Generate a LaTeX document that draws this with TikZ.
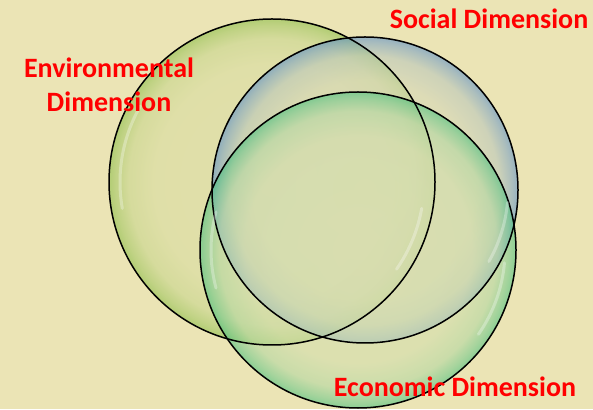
\documentclass[tikz,border=0pt]{standalone}
\usepackage{fontspec}
\setmainfont{Carlito}
\definecolor{bg}{HTML}{EBE4B5}
\definecolor{envrim}{HTML}{8DBE4A}
\definecolor{socrim}{HTML}{5E90C8}
\definecolor{ecorim}{HTML}{4CC07E}
\definecolor{labelred}{HTML}{FF0000}
\pgfdeclareradialshading{envbubble}{\pgfpoint{0bp}{0bp}}{%
  color(0bp)=(envrim!16!bg); color(18bp)=(envrim!20!bg); color(22bp)=(envrim!38!bg);
  color(24bp)=(envrim!75!bg); color(25bp)=(envrim); color(50bp)=(envrim)}
\pgfdeclareradialshading{socbubble}{\pgfpoint{0bp}{0bp}}{%
  color(0bp)=(socrim!12!bg); color(18bp)=(socrim!16!bg); color(22bp)=(socrim!35!bg);
  color(24bp)=(socrim!75!bg); color(25bp)=(socrim); color(50bp)=(socrim)}
\pgfdeclareradialshading{ecobubble}{\pgfpoint{0bp}{0bp}}{%
  color(0bp)=(ecorim!12!bg); color(18bp)=(ecorim!16!bg); color(22bp)=(ecorim!35!bg);
  color(24bp)=(ecorim!75!bg); color(25bp)=(ecorim); color(50bp)=(ecorim)}
\begin{document}
\begin{tikzpicture}[x=1pt,y=1pt]
\tikzset{every node/.style={font=\fontsize{28}{34}\selectfont\bfseries, text=labelred},
  bubble/.style={circle, inner sep=0pt, fill opacity=0.6},
  rim/.style={circle, draw=black, line width=1.5pt, inner sep=0pt},
  shine/.style={white, line width=3pt, opacity=0.3, line cap=round}}

% Background
\fill[bg] (0,0) rectangle (593,409);
\useasboundingbox (0,0) rectangle (593,409);

% Nodes for dimensions
\node[bubble, shade, shading=envbubble, minimum size=326pt] at (272, 227) (env) {};
\node[bubble, shade, shading=socbubble, minimum size=306pt] at (365, 219) (soc) {};
\node[bubble, shade, shading=ecobubble, minimum size=316pt] at (358, 159) (eco) {};

% Outlines on top
\foreach \n/\d in {env/326, soc/306, eco/316}
  \node[rim, minimum size=\d pt] at (\n) (\n rim) {};

% Shine on the bubbles
\draw[shine] ([shift={(150:152)}]env.center) arc[start angle=150, end angle=190, radius=152];
\draw[shine] ([shift={(-35:152)}]env.center) arc[start angle=-35, end angle=-10, radius=152];
\draw[shine] ([shift={(-30:143)}]soc.center) arc[start angle=-30, end angle=-5, radius=143];
\draw[shine] ([shift={(165:147)}]eco.center) arc[start angle=165, end angle=195, radius=147];
\draw[shine] ([shift={(-35:147)}]eco.center) arc[start angle=-35, end angle=-5, radius=147];

% Nodes for labels
\node[align=center] at (109, 324) (envlabel) {Environmental\\Dimension};
\node at (489, 390) (soclabel) {Social Dimension};
\node at (455, 22) (ecolabel) {Economic Dimension};
\end{tikzpicture}
\end{document}
